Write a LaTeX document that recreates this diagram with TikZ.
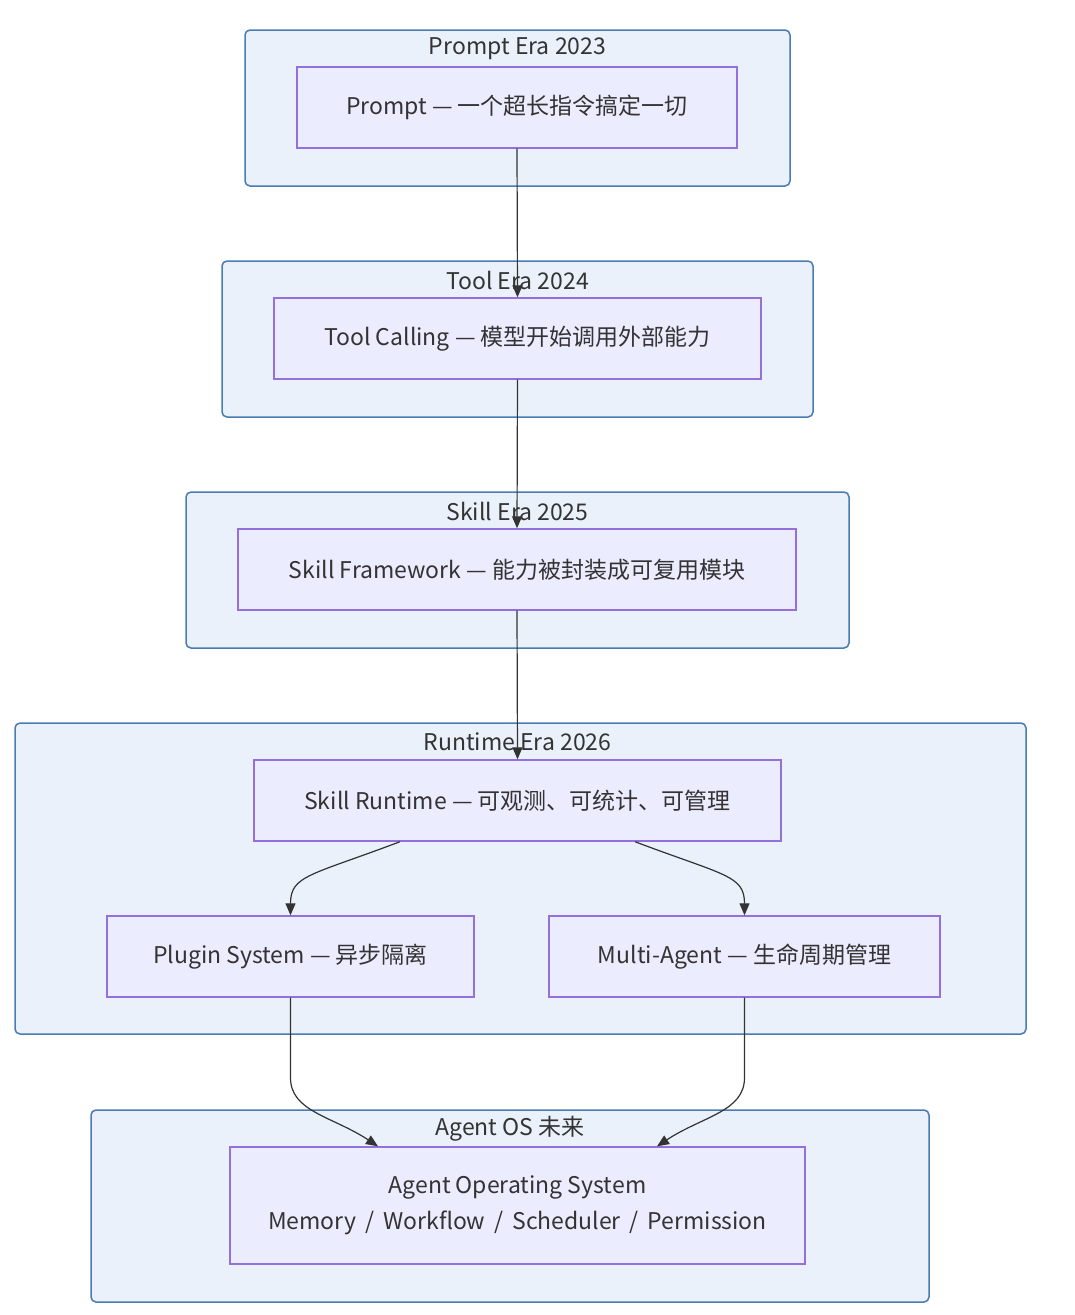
\documentclass[tikz,border=0pt]{standalone}
\usepackage{fontspec}
\setmainfont{Noto Sans CJK SC}
\usepackage{tikz}
\usetikzlibrary{arrows.meta,calc}
\definecolor{erafill}{RGB}{234,241,251}
\definecolor{eraline}{RGB}{74,124,180}
\definecolor{stepfill}{RGB}{236,236,255}
\definecolor{stepline}{RGB}{147,112,219}
\definecolor{inkgray}{RGB}{51,51,51}
\tikzset{
  era/.style={draw=eraline,fill=erafill,line width=1.5pt,rounded corners=5pt},
  eratitle/.style={text=inkgray,font=\fontsize{23}{27}\selectfont,inner sep=0pt},
  stepbox/.style={draw=stepline,fill=stepfill,line width=1.4pt,text=inkgray,
    font=\fontsize{23}{36}\selectfont,inner sep=0pt,align=center},
  flow/.style={draw=inkgray,line width=1.2pt,-{Triangle[length=12pt,width=10pt]}}
}
\begin{document}
\begin{tikzpicture}[x=1pt,y=-1pt]
\useasboundingbox (0,0) rectangle (1074,1315);
\fill[white] (0,0) rectangle (1074,1315);
% ---- era frames ----
\draw[era] (245,30) rectangle (790,186);
\draw[era] (222,261) rectangle (813,417);
\draw[era] (186,492) rectangle (849,648);
\draw[era] (15,723) rectangle (1026,1034);
\draw[era] (91,1110) rectangle (929,1302);
\node[eratitle] (t23) at (517.5,49) {Prompt Era 2023};
\node[eratitle] (t24) at (517.5,280) {Tool Era 2024};
\node[eratitle] (t25) at (517.5,511) {Skill Era 2025};
\node[eratitle] (t26) at (517.5,742) {Runtime Era 2026};
\node[eratitle] (tos) at (510,1129) {Agent OS 未来};
% ---- steps ----
\node[stepbox,minimum width=440pt,minimum height=81pt] (prompt) at (517,107.5) {Prompt — 一个超长指令搞定一切};
\node[stepbox,minimum width=487pt,minimum height=81pt] (tool) at (517.5,338.5) {Tool Calling — 模型开始调用外部能力};
\node[stepbox,minimum width=558pt,minimum height=81pt] (skill) at (517,569.5) {Skill Framework — 能力被封装成可复用模块};
\node[stepbox,minimum width=527pt,minimum height=81pt] (runtime) at (517.5,800.5) {Skill Runtime — 可观测、可统计、可管理};
\node[stepbox,minimum width=367pt,minimum height=81pt] (plugin) at (290.5,956.5) {Plugin System — 异步隔离};
\node[stepbox,minimum width=391pt,minimum height=81pt] (multi) at (744.5,956.5) {Multi-Agent — 生命周期管理};
\node[stepbox,minimum width=575pt,minimum height=117pt] (os) at (517.5,1205.5) {Agent Operating System\\Memory \,/\, Workflow \,/\, Scheduler \,/\, Permission};
% ---- flow ----
\draw[flow] (prompt.south) -- (tool.north);
\draw[flow] (tool.south) -- (skill.north);
\draw[flow] (skill.south) -- (runtime.north);
\draw[flow] ([xshift=-117.5pt]runtime.south) .. controls +(-90,34) and +(0,-40) .. (plugin.north);
\draw[flow] ([xshift=117.5pt]runtime.south) .. controls +(90,34) and +(0,-40) .. (multi.north);
\draw[flow] (plugin.south) -- ++(0,80) .. controls +(0,34) and ($(os.north)+(-185,-30)$) .. ([xshift=-139.5pt]os.north);
\draw[flow] (multi.south) -- ++(0,80) .. controls +(0,34) and ($(os.north)+(185,-30)$) .. ([xshift=139.5pt]os.north);
\end{tikzpicture}
\end{document}
